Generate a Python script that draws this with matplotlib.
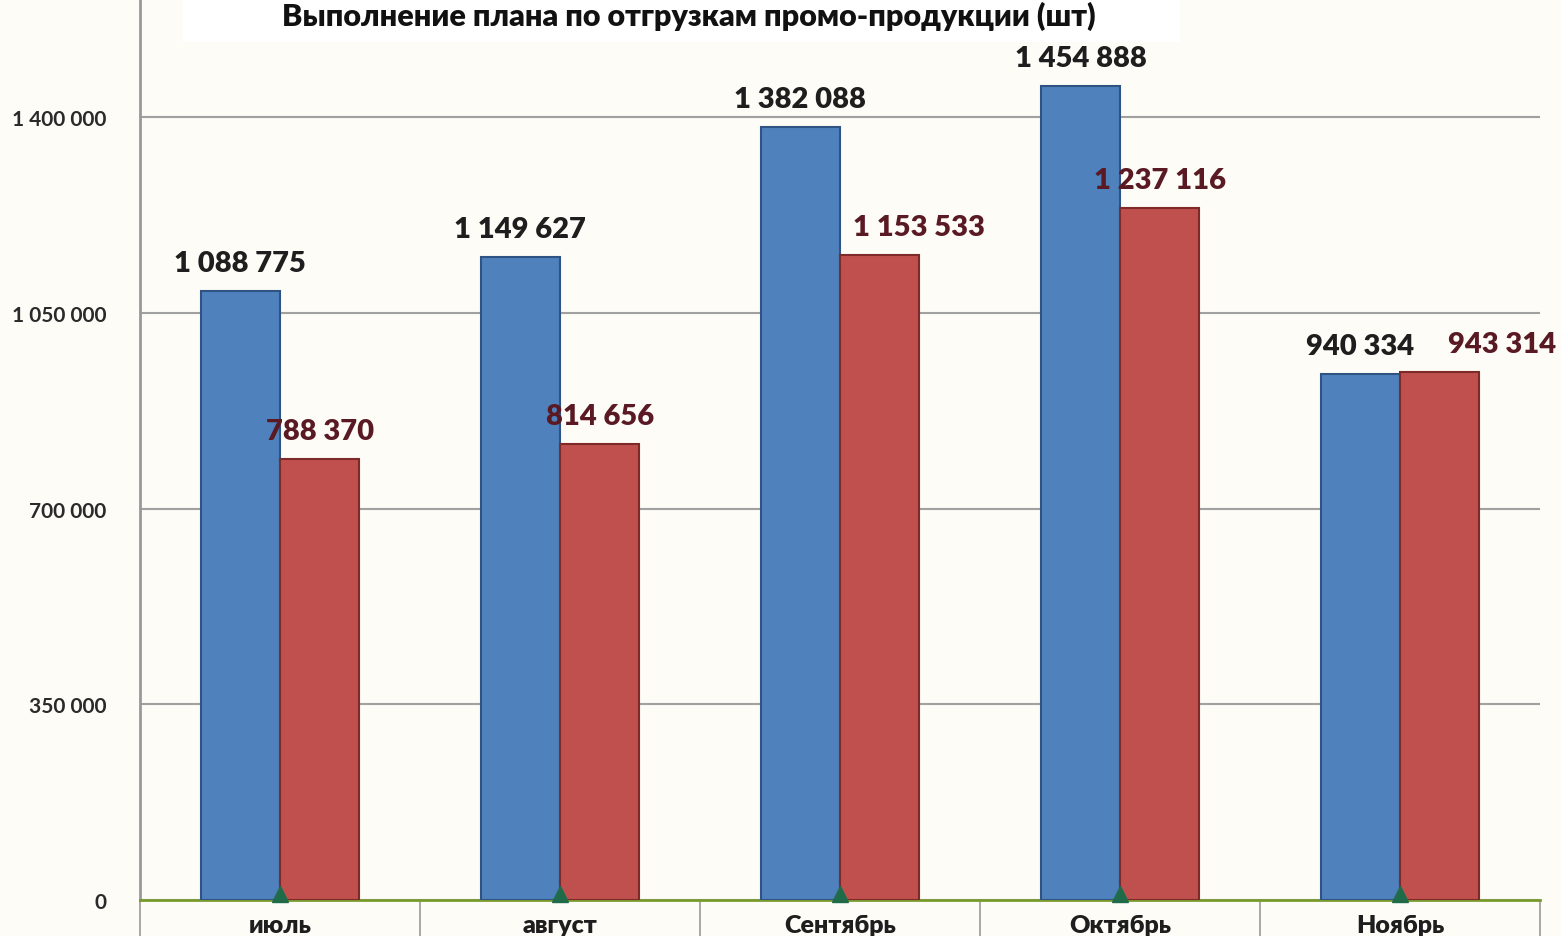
import numpy as np
import matplotlib
matplotlib.use('Agg')
import matplotlib.pyplot as plt
import matplotlib.transforms as mtransforms
from matplotlib.patches import Rectangle

months = ['июль', 'август', 'Сентябрь', 'Октябрь', 'Ноябрь']
plan = [1088775, 1149627, 1382088, 1454888, 940334]
fact = [788370, 814656, 1153533, 1237116, 943314]
yticks = [0, 350000, 700000, 1050000, 1400000]
title = 'Выполнение плана по отгрузкам промо-продукции (шт)'

plt.rcParams['font.family'] = ['Lato', 'DejaVu Sans']

def fmt(v):
    return f'{v:,}'.replace(',', ' ')

bg = '#fdfcf7'
fig = plt.figure(figsize=(15.61, 9.37), dpi=100, facecolor=bg)
ax = fig.add_axes([140 / 1561, 36 / 937, 1400 / 1561, 901 / 937], facecolor=bg)

x = np.arange(len(months))
w = 0.283
ax.bar(x - w / 2, plan, w, color='#4f81bd', edgecolor='#2f5483', linewidth=1.5, zorder=3)
ax.bar(x + w / 2, fact, w, color='#c0504d', edgecolor='#7e2a28', linewidth=1.5, zorder=3)

# red labels in Sep and Nov are pushed right in the original
shift = {2: 28, 4: 45}
for i in range(len(months)):
    ax.annotate(fmt(plan[i]), (x[i] - w / 2, plan[i]), xytext=(0, 11), textcoords='offset points',
                ha='center', va='bottom', fontsize=21, fontweight='heavy', color='#1e1e1e')
    ax.annotate(fmt(fact[i]), (x[i] + w / 2, fact[i]), xytext=(shift.get(i, 0), 11),
                textcoords='offset points', ha='center', va='bottom', fontsize=21,
                fontweight='heavy', color='#5a1a24')

ax.set_xlim(-0.5, 4.5)
ax.set_ylim(0, 1400000 * 901 / 783)
ax.set_yticks(yticks)
ax.set_yticklabels([fmt(v) for v in yticks], fontsize=15, fontweight='bold', color='#2a2a2a')
ax.tick_params(axis='y', length=0, pad=24)
ax.yaxis.grid(True, color='#a0a0a0', linewidth=1.5, zorder=0)
ax.set_axisbelow(True)

ax.set_xticks(x)
ax.set_xticklabels(months, fontsize=18, fontweight='heavy', color='#1e1e1e')
ax.tick_params(axis='x', which='major', length=0, pad=10)
ax.set_xticks(np.arange(-0.5, 5, 1), minor=True)
ax.tick_params(axis='x', which='minor', length=30, width=1.2, color='#999999', direction='out')

for s in ['top', 'right']:
    ax.spines[s].set_visible(False)
ax.spines['left'].set_color('#999999')
ax.spines['left'].set_linewidth(2)
ax.spines['bottom'].set_color('#7a9a2e')
ax.spines['bottom'].set_linewidth(2)

tri = mtransforms.offset_copy(ax.transData, fig=fig, x=0, y=6, units='dots')
ax.plot(x, np.zeros(len(x)), '^', color='#1f6b4a', markersize=11, transform=tri,
        clip_on=False, zorder=5)

fig.patches.append(Rectangle((183 / 1561, 1 - 43 / 937), 997 / 1561, 43 / 937,
                             transform=fig.transFigure, facecolor='white', edgecolor='none', zorder=0))
fig.text(689 / 1561, 1 - 16 / 937, title, ha='center', va='center', fontsize=22,
         fontweight='heavy', color='#111111')

fig.savefig('out.png', dpi=100, facecolor=bg)
